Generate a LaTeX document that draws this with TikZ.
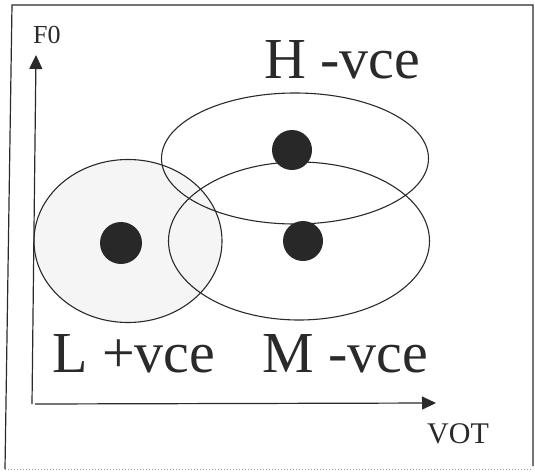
\documentclass[tikz,border=0pt]{standalone}
\usepackage{fontspec}
\setmainfont{Liberation Serif}
\usetikzlibrary{arrows.meta}
\definecolor{ink}{HTML}{2A2A2A}
\tikzset{
  px/.style={x=1pt,y=-1pt},
  outline/.style={draw=ink,line width=1.1pt},
  dotfill/.style={fill=ink!95!black,draw=none},
  axis/.style={draw=ink,line width=1.2pt,-{Triangle[length=14pt,width=13pt]}},
  biglabel/.style={text=ink,inner sep=0pt,anchor=base west,font=\fontsize{58}{58}\selectfont},
  smalllabel/.style={text=ink,inner sep=0pt,anchor=base west}
}
\begin{document}
\begin{tikzpicture}[px]
\useasboundingbox (0,0) rectangle (535,471);
% frame
\draw[ink,line width=1.2pt] (5,469) -- (12,5) -- (533,5) -- (533,466);
\draw[ink!50,line width=1pt,dotted] (5,469) -- (533,469);
% regions
\path[fill=gray!8] (128,241) ellipse [x radius=94,y radius=81.5];
\draw[outline] (128,241) ellipse [x radius=94,y radius=81.5];
\draw[outline] (295,158.5) ellipse [x radius=133.5,y radius=65.5];
\draw[outline] (299,241) ellipse [x radius=130.5,y radius=79];
% dots
\node[dotfill,circle,minimum size=42pt,inner sep=0pt] (dl) at (121,243) {};
\node[dotfill,circle,minimum size=40pt,inner sep=0pt] (dh) at (292,150) {};
\node[dotfill,circle,minimum size=40pt,inner sep=0pt] (dm) at (303,241) {};
% axes
\coordinate (yo) at (32,404);
\coordinate (ytip) at (36,55);
\coordinate (xo) at (35,404);
\coordinate (xtip) at (436,403);
\draw[axis] (yo) -- (ytip);
\draw[axis] (xo) -- (xtip);
% labels
\node[smalllabel,font=\fontsize{26}{26}\selectfont] (f0) at (33,43) {F0};
\node[smalllabel,font=\fontsize{30}{30}\selectfont] (vot) at (427,443) {VOT};
\node[biglabel] (h) at (264,78) {H -vce};
\node[biglabel] (l) at (52,372) {L +vce};
\node[biglabel] (m) at (262,372) {M -vce};
\end{tikzpicture}
\end{document}
